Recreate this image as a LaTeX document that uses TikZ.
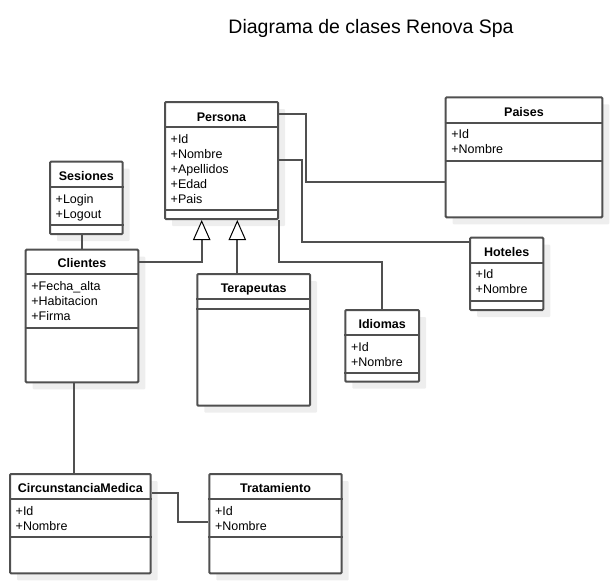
\documentclass[tikz,border=0pt]{standalone}
\usepackage{fontspec}
\setmainfont{Liberation Sans}
\usetikzlibrary{fit,shadows,arrows.meta}
\definecolor{linea}{RGB}{80,80,80}
\definecolor{sombra}{RGB}{238,238,238}
\tikzset{
  clase/.style={draw=linea, line width=2pt, fill=white, inner sep=0pt, rounded corners=1pt,
    drop shadow={shadow xshift=7pt, shadow yshift=-7pt, fill=sombra, opacity=1}},
  division/.style={draw=linea, line width=2pt},
  encabezado/.style={font=\fontsize{19.5}{23}\selectfont, anchor=base, inner sep=0pt},
  titulo/.style={font=\bfseries\fontsize{12.5}{15}\selectfont, anchor=base, inner sep=0pt},
  atributo/.style={font=\fontsize{12.5}{15}\selectfont, anchor=base west, inner sep=0pt},
  enlace/.style={draw=linea, line width=2pt},
  hereda/.style={enlace, -{Triangle[color=black, fill=white, line width=1pt, length=20pt, width=17.4pt]}}
}
\begin{document}
\begin{tikzpicture}[x=1pt,y=-1pt]
\useasboundingbox (0,0) rectangle (612,584);
\node[encabezado] (titulo) at (371,33.3) {Diagrama de clases Renova Spa};
% Persona
\node[clase, fit={(165,102) (278,219)}] (persona) {};
\draw[division] (persona.west |- 0,127.3) -- (persona.east |- 0,127.3);
\draw[division] (persona.west |- 0,210) -- (persona.east |- 0,210);
\node[titulo] (persona-t) at (persona.north |- 0,121) {Persona};
\foreach \campo [count=\i] in {+Id,+Nombre,+Apellidos,+Edad,+Pais}
  \node[atributo] (persona-\i) at (170.5,128.3+15*\i) {\campo};
% Paises
\node[clase, fit={(445.7,97.3) (602.3,217.3)}] (paises) {};
\draw[division] (paises.west |- 0,122.7) -- (paises.east |- 0,122.7);
\draw[division] (paises.west |- 0,160.7) -- (paises.east |- 0,160.7);
\node[titulo] (paises-t) at (paises.north |- 0,116.2) {Paises};
\foreach \campo [count=\i] in {+Id,+Nombre}
  \node[atributo] (paises-\i) at (451.2,123.7+15*\i) {\campo};
% Hoteles
\node[clase, fit={(470,237.7) (543.3,310)}] (hoteles) {};
\draw[division] (hoteles.west |- 0,262.7) -- (hoteles.east |- 0,262.7);
\draw[division] (hoteles.west |- 0,300.7) -- (hoteles.east |- 0,300.7);
\node[titulo] (hoteles-t) at (hoteles.north |- 0,256.2) {Hoteles};
\foreach \campo [count=\i] in {+Id,+Nombre}
  \node[atributo] (hoteles-\i) at (475.5,263.7+15*\i) {\campo};
% Sesiones
\node[clase, fit={(50,161.7) (122.7,234)}] (sesiones) {};
\draw[division] (sesiones.west |- 0,187) -- (sesiones.east |- 0,187);
\draw[division] (sesiones.west |- 0,225) -- (sesiones.east |- 0,225);
\node[titulo] (sesiones-t) at (sesiones.north |- 0,180.5) {Sesiones};
\foreach \campo [count=\i] in {+Login,+Logout}
  \node[atributo] (sesiones-\i) at (55.5,188+15*\i) {\campo};
% Clientes
\node[clase, fit={(25.7,249.7) (138.3,382.3)}] (clientes) {};
\draw[division] (clientes.west |- 0,274.3) -- (clientes.east |- 0,274.3);
\draw[division] (clientes.west |- 0,327.7) -- (clientes.east |- 0,327.7);
\node[titulo] (clientes-t) at (clientes.north |- 0,267.8) {Clientes};
\foreach \campo [count=\i] in {+Fecha\_alta,+Habitacion,+Firma}
  \node[atributo] (clientes-\i) at (31.2,275.3+15*\i) {\campo};
% Terapeutas
\node[clase, fit={(197.3,274) (310,405.7)}] (terapeutas) {};
\draw[division] (terapeutas.west |- 0,299) -- (terapeutas.east |- 0,299);
\draw[division] (terapeutas.west |- 0,309) -- (terapeutas.east |- 0,309);
\node[titulo] (terapeutas-t) at (terapeutas.north |- 0,292.5) {Terapeutas};
% Idiomas
\node[clase, fit={(345.3,310) (419,381.7)}] (idiomas) {};
\draw[division] (idiomas.west |- 0,335) -- (idiomas.east |- 0,335);
\draw[division] (idiomas.west |- 0,372.7) -- (idiomas.east |- 0,372.7);
\node[titulo] (idiomas-t) at (idiomas.north |- 0,328.5) {Idiomas};
\foreach \campo [count=\i] in {+Id,+Nombre}
  \node[atributo] (idiomas-\i) at (350.8,336+15*\i) {\campo};
% CircunstanciaMedica
\node[clase, fit={(10,474) (150.7,573.3)}] (circunstancia) {};
\draw[division] (circunstancia.west |- 0,499) -- (circunstancia.east |- 0,499);
\draw[division] (circunstancia.west |- 0,536.7) -- (circunstancia.east |- 0,536.7);
\node[titulo] (circunstancia-t) at (circunstancia.north |- 0,492.5) {CircunstanciaMedica};
\foreach \campo [count=\i] in {+Id,+Nombre}
  \node[atributo] (circunstancia-\i) at (15.5,500+15*\i) {\campo};
% Tratamiento
\node[clase, fit={(209.3,474) (341.7,573.3)}] (tratamiento) {};
\draw[division] (tratamiento.west |- 0,499) -- (tratamiento.east |- 0,499);
\draw[division] (tratamiento.west |- 0,536.7) -- (tratamiento.east |- 0,536.7);
\node[titulo] (tratamiento-t) at (tratamiento.north |- 0,492.5) {Tratamiento};
\foreach \campo [count=\i] in {+Id,+Nombre}
  \node[atributo] (tratamiento-\i) at (214.8,500+15*\i) {\campo};
% relaciones
\draw[enlace] (persona.east |- 0,114) -- (305.7,114) |- (paises.west |- 0,181.7);
\draw[enlace] (persona.east |- 0,159.5) -- (301.7,159.5) |- (hoteles.west |- 0,242);
\draw[enlace] (persona.south east) |- (idiomas.north |- 0,261.5) -- (idiomas.north);
\draw[hereda] (clientes.east |- 0,261.7) -| (persona.south -| 201.7,0);
\draw[hereda] (terapeutas.north -| 237.3,0) -- (persona.south -| 237.3,0);
\draw[enlace] (sesiones.south -| clientes.north) -- (clientes.north);
\draw[enlace] (clientes.south -| 74,0) -- (circunstancia.north -| 74,0);
\draw[enlace] (circunstancia.east |- 0,493.3) -- (178.3,493.3) |- (tratamiento.west |- 0,521.7);
\end{tikzpicture}
\end{document}
